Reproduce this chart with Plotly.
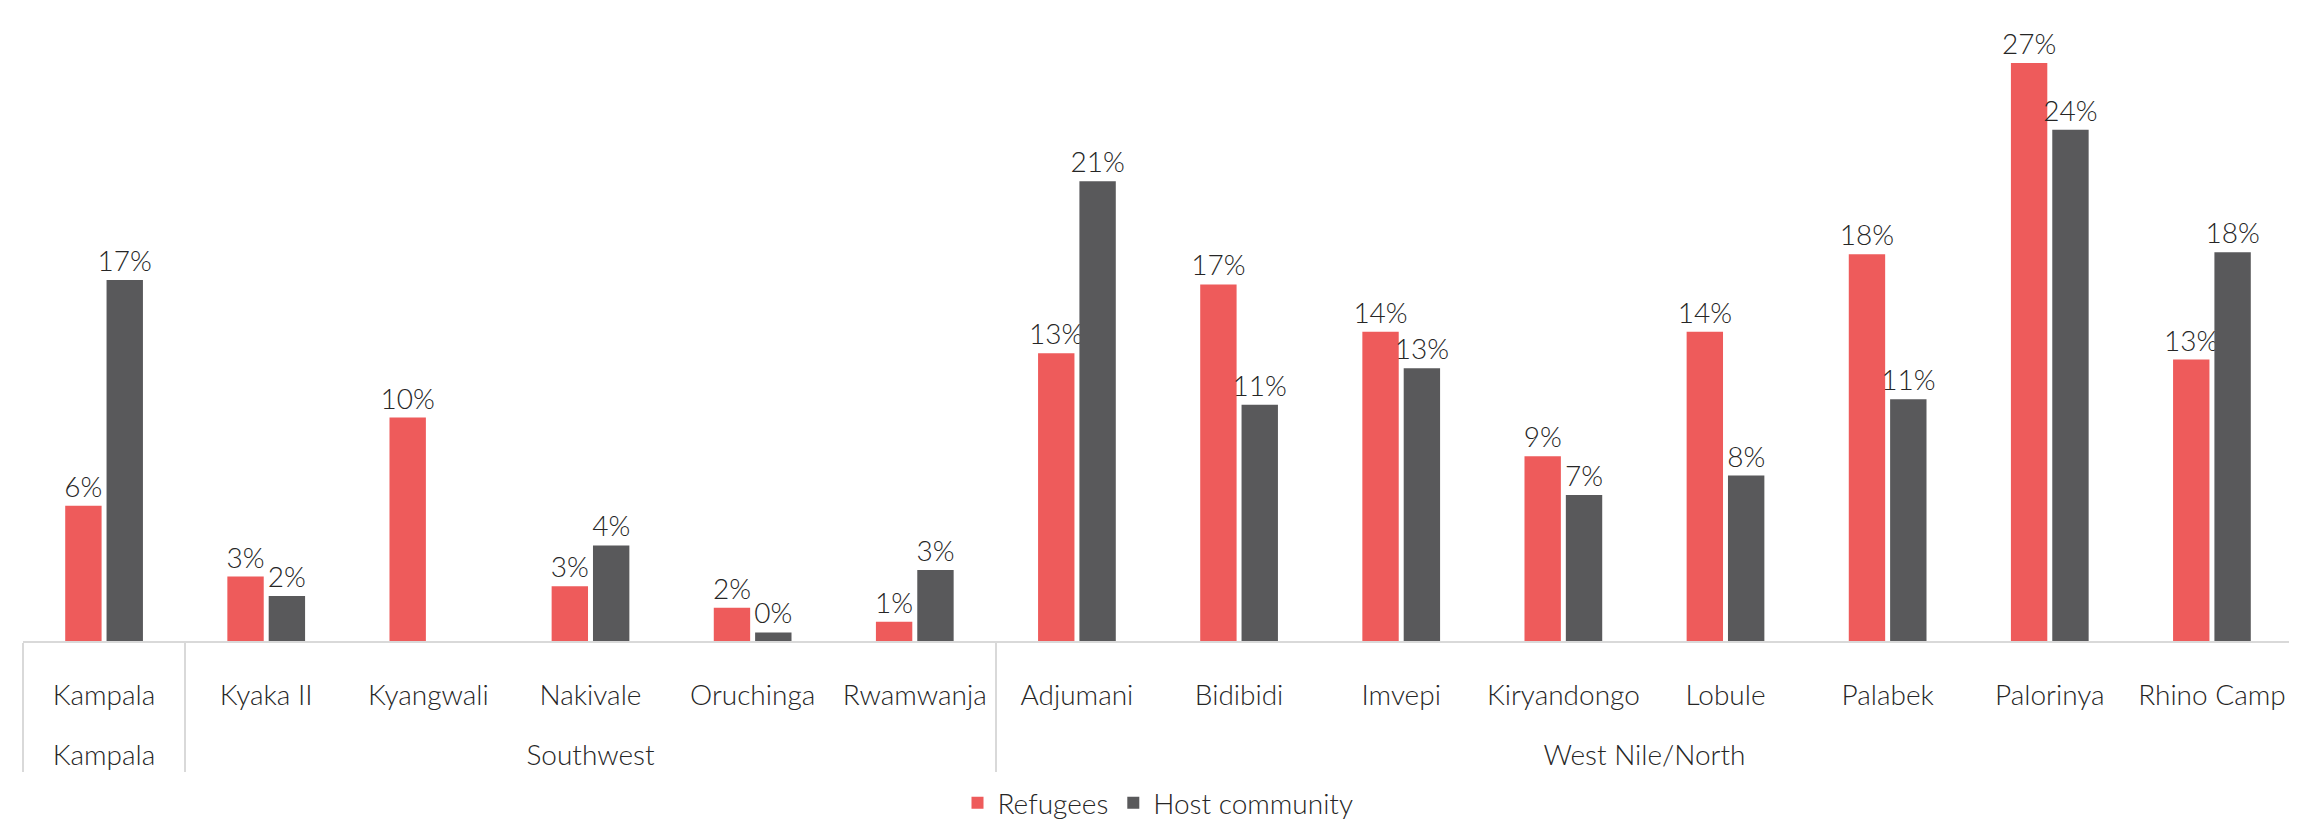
import plotly.graph_objects as go

regions = ["Kampala", "Southwest", "Southwest", "Southwest", "Southwest", "Southwest",
           "West Nile/North", "West Nile/North", "West Nile/North", "West Nile/North",
           "West Nile/North", "West Nile/North", "West Nile/North", "West Nile/North"]
sites = ["Kampala", "Kyaka II", "Kyangwali", "Nakivale", "Oruchinga", "Rwamwanja",
         "Adjumani", "Bidibidi", "Imvepi", "Kiryandongo", "Lobule", "Palabek",
         "Palorinya", "Rhino Camp"]
refugees = [6.3, 3.0, 10.4, 2.55, 1.55, 0.9, 13.4, 16.6, 14.4, 8.6, 14.4, 18.0, 26.9, 13.1]
host = [16.8, 2.1, None, 4.45, 0.4, 3.3, 21.4, 11.0, 12.7, 6.8, 7.7, 11.25, 23.8, 18.1]

RED = "#EE5B5B"
GREY = "#59595B"
TEXT = "#262626"
LINE = "#D9D9D9"
FONT = "Lato"
FS = 28


def labels(vals):
    return ["" if v is None else f"{v:.0f}%" for v in vals]


# inner row labels get a blank (tall) second line so the region row sits lower
site_ticks = [s + "<br><span style='font-size:72px'> </span>" for s in sites]

fig = go.Figure()
for name, vals, col in [("Refugees", refugees, RED), ("Host community", host, GREY)]:
    fig.add_trace(go.Bar(
        x=[regions, site_ticks], y=vals, name=name,
        marker=dict(color=col, line=dict(width=0)),
        text=labels(vals), textposition="outside", constraintext="none",
        cliponaxis=False,
        textfont=dict(family=FONT, size=FS, color=TEXT, weight=300),
    ))

fig.update_layout(
    barmode="group", bargap=0.49, bargroupgap=0.12,
    width=2297, height=830,
    margin=dict(l=15, r=12, t=10, b=182),
    plot_bgcolor="white", paper_bgcolor="white",
    font=dict(family=FONT, size=FS, color=TEXT, weight=300),
    legend=dict(orientation="h", x=0.5, xanchor="center", y=-0.26, yanchor="middle",
                font=dict(family=FONT, size=FS, color=TEXT, weight=300)),
    showlegend=True,
)
fig.update_xaxes(type="multicategory", showline=True, linecolor=LINE, linewidth=2,
                 showdividers=True, dividercolor=LINE, dividerwidth=2,
                 ticks="", ticklabelstandoff=28,
                 showgrid=False, tickfont=dict(family=FONT, size=FS, color=TEXT, weight=300))
fig.update_yaxes(range=[0, 29], visible=False, showgrid=False)

fig.write_html("out.html")
